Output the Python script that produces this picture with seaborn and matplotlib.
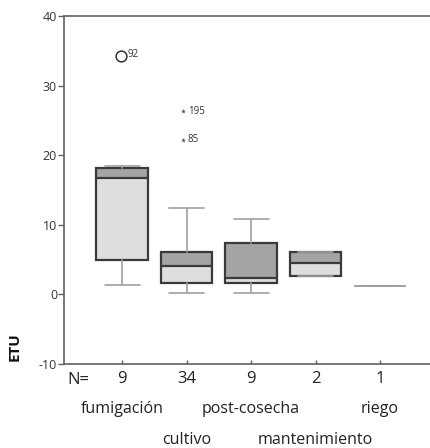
import numpy as np
import pandas as pd
import matplotlib
matplotlib.use("Agg")
import matplotlib.pyplot as plt
import seaborn as sns

# Data
categories = ["fumigación", "cultivo", "post-cosecha", "mantenimiento", "riego"]
n_counts = [9, 34, 9, 2, 1]
whis_lo = [1.3, 0.15, 0.2, 2.7, 1.15]
q1 = [5.0, 1.7, 1.6, 2.7, 1.15]
median = [16.7, 4.1, 2.4, 4.5, 1.15]
q3 = [18.1, 6.1, 7.4, 6.1, 1.15]
whis_hi = [18.5, 12.4, 10.9, 6.1, 1.15]

# outliers: category index, value, case label, kind
out_cat = [0, 1, 1]
out_val = [34.2, 26.3, 22.2]
out_lab = ["92", "195", "85"]
out_kind = ["o", "*", "*"]

sns.set_style("ticks")
plt.rcParams["font.family"] = ["Open Sans", "DejaVu Sans"]

light = "#dedede"
dark = "#a4a4a4"
edge = "#3a3a3a"
whisk = "#a0a0a0"
axcol = "#606060"

fig = plt.figure(figsize=(4.31, 4.48), dpi=100)
ax = fig.add_axes([64 / 431, 1 - 364 / 448, 1 - 64 / 431, 348 / 448])

pos = np.arange(len(categories))
width = 0.8

# two-tone boxes: below median light, above median dark
lower = np.array(median) - np.array(q1)
upper = np.array(q3) - np.array(median)
ax.bar(pos, lower, bottom=q1, width=width, color=light, linewidth=0, zorder=1)
ax.bar(pos, upper, bottom=median, width=width, color=dark, linewidth=0, zorder=1)

stats = []
for i, c in enumerate(categories):
    stats.append(dict(label=c, whislo=whis_lo[i], q1=q1[i], med=median[i],
                      q3=q3[i], whishi=whis_hi[i], fliers=[]))

bp = ax.bxp(stats, positions=pos, widths=width, patch_artist=True,
            showfliers=False,
            boxprops=dict(facecolor="none", edgecolor=edge, linewidth=1.6),
            medianprops=dict(color=edge, linewidth=1.6),
            whiskerprops=dict(color=whisk, linewidth=1.2),
            capprops=dict(color=whisk, linewidth=1.2),
            capwidths=width * 0.68, zorder=2)

# single case (riego) drawn as a thin gray line
bp["boxes"][4].set_edgecolor(whisk)
bp["boxes"][4].set_linewidth(1.2)
bp["medians"][4].set_color(whisk)
bp["medians"][4].set_linewidth(1.2)

# outliers
for c, v, lab, k in zip(out_cat, out_val, out_lab, out_kind):
    if k == "o":
        ax.scatter(c - 0.02, v, s=60, facecolor="white", edgecolor="#333333",
                   linewidth=1.1, zorder=3)
        ax.text(c + 0.09, v + 0.3, lab, fontsize=7, color="#333333",
                va="center", ha="left")
    else:
        ax.scatter(c - 0.05, v, s=14, marker="*", color="#555555",
                   linewidth=0, zorder=3)
        ax.text(c + 0.02, v, lab, fontsize=7, color="#333333",
                va="center", ha="left")

ax.set_xlim(-0.9, 4.79)
ax.set_ylim(-10, 40)
ax.set_yticks([-10, 0, 10, 20, 30, 40])
ax.set_yticklabels(["-10", "0", "10", "20", "30", "40"], fontsize=9, color="#333333")
ax.set_xticks(pos)
ax.set_xticklabels([str(n) for n in n_counts], fontsize=12, color="#222222")
ax.tick_params(axis="y", direction="out", length=4, width=1, color=axcol, pad=1)
ax.tick_params(axis="x", direction="in", length=3, width=1, color=axcol, pad=5)

for s in ["left", "bottom", "top"]:
    ax.spines[s].set_color(axcol)
    ax.spines[s].set_linewidth(1.2)
ax.spines["right"].set_visible(False)

tr = ax.get_xaxis_transform()
ax.text(-0.68, -0.045, "N=", transform=tr, fontsize=12, color="#222222",
        ha="center", va="center")
for i, c in enumerate(categories):
    yy = -0.13 if i % 2 == 0 else -0.217
    ax.text(i, yy, c, transform=tr, fontsize=11.5, color="#222222",
            ha="center", va="center", clip_on=False)

fig.text(15 / 431, 1 - 347 / 448, "ETU", rotation=90, fontsize=11,
         fontweight="bold", ha="center", va="center", color="#111111")

fig.savefig("out.png", dpi=100)
